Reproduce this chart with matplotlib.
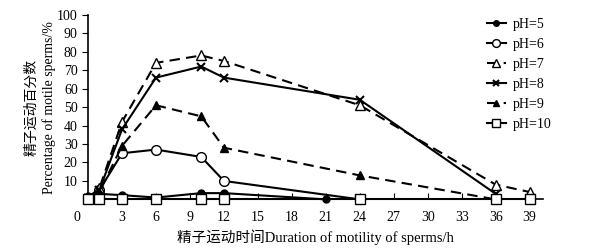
import matplotlib
matplotlib.use('Agg')
import matplotlib.pyplot as plt

plt.rcParams['font.family'] = ['Liberation Serif', 'Noto Sans CJK SC']

# ── data ──
ph5 = ([0, 1, 3, 6, 10, 12, 21], [2, 3, 2.3, 1, 3.4, 3.4, 0])
ph6 = ([0, 1, 3, 6, 10, 12, 24], [1, 5, 25, 27, 23, 10, 0])
ph7 = ([0, 1, 3, 6, 10, 12, 24, 36, 39], [1, 6, 42, 74, 78, 75, 51, 8, 4])
ph8 = ([0, 1, 3, 6, 10, 12, 24, 36], [1, 5, 38, 66, 72, 66, 54, 3])
ph9 = ([0, 1, 3, 6, 10, 12, 24, 36], [1, 4, 29, 51, 45, 28, 13, 0])
ph10 = ([0, 1, 3, 6, 10, 12, 24, 36, 39], [0, 0, 0, 0, 0, 0, 0, 0, 0])

labels = ['pH=5', 'pH=6', 'pH=7', 'pH=8', 'pH=9', 'pH=10']
xticks = [3, 6, 9, 12, 15, 18, 21, 24, 27, 30, 33, 36, 39]
yticks = [10, 20, 30, 40, 50, 60, 70, 80, 90, 100]

fig = plt.figure(figsize=(5.95, 2.48), dpi=100)
ax = fig.add_axes([0.148, 0.196, 0.765, 0.744])

dash = (0, (5, 3))
styles = [
    dict(ls='-', marker='o', mfc='black', ms=5),
    dict(ls='-', marker='o', mfc='white', ms=7),
    dict(ls=dash, marker='^', mfc='white', ms=7.5),
    dict(ls='-', marker='x', mfc='black', ms=6, mew=1.5),
    dict(ls=dash, marker='^', mfc='black', ms=6),
    dict(ls='-', marker='s', mfc='white', ms=6.5),
]
series = [ph5, ph6, ph7, ph8, ph9, ph10]
for (xs, ys), st, lab in zip(series, styles, labels):
    ax.plot(xs, ys, color='black', mec='black', lw=1.5, clip_on=False,
            label=lab, zorder=3, **st)

ax.set_xlim(0, 40.2)
ax.set_ylim(0, 100)
ax.set_xticks(xticks)
ax.set_yticks(yticks)
ax.tick_params(axis='x', direction='in', length=4, labelsize=10, pad=8)
ax.tick_params(axis='y', direction='out', length=4, labelsize=10)
for s in ['top', 'right']:
    ax.spines[s].set_visible(False)
ax.spines['left'].set_linewidth(1.2)
ax.spines['bottom'].set_linewidth(1.2)

ax.annotate('0', xy=(0, 0), xycoords='data', xytext=(-8, -13),
            textcoords='offset points', ha='center', va='center', fontsize=10)

ax.set_ylabel('精子运动百分数\nPercentage of motile sperms/%', fontsize=10,
              linespacing=1.35, labelpad=1)
ax.set_xlabel('精子运动时间Duration of motility of sperms/h', fontsize=10.5,
              labelpad=4)

ax.legend(loc='upper right', bbox_to_anchor=(1.045, 1.05), frameon=False,
          fontsize=10, handlelength=1.3, labelspacing=0.5, markerscale=0.8,
          handletextpad=0.5)

fig.savefig('out.png', dpi=100)
